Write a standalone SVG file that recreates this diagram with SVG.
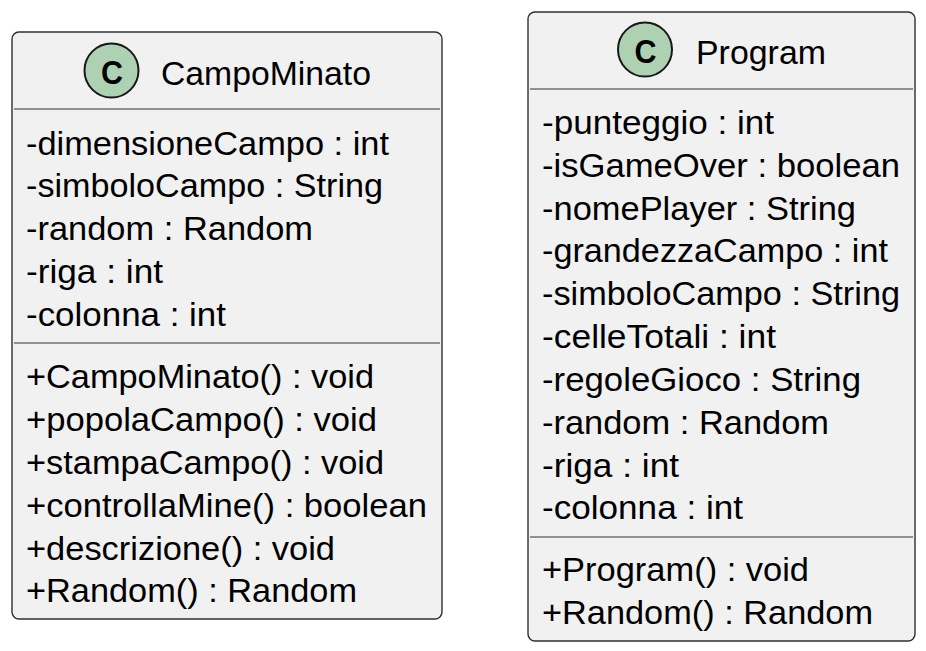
<svg xmlns="http://www.w3.org/2000/svg" width="926" height="651" viewBox="0 0 926 651">
<style>
.box{fill:#f1f1f1;stroke:#303030;stroke-width:1.4}
.sep{stroke:#303030;stroke-width:1.2;fill:none}
.circ{fill:#add1b2;stroke:#181818;stroke-width:2}
text{font-family:"Liberation Sans",Arial,sans-serif;font-size:33px;fill:#000}
.c{font-weight:700;font-size:33px}
</style>
<rect width="926" height="651" fill="#fff"/>
<g id="CampoMinato">
<rect class="box" x="12" y="32" width="430" height="587" rx="7"/>
<circle class="circ" cx="111.5" cy="70.5" r="27"/>
<text class="c" x="112" y="84" text-anchor="middle" textLength="22" lengthAdjust="spacingAndGlyphs">C</text>
<text x="161" y="84.5" textLength="210" lengthAdjust="spacingAndGlyphs">CampoMinato</text>
<path class="sep" d="M14 109H440M14 343H440"/>
<text x="26" y="154.5" textLength="363" lengthAdjust="spacingAndGlyphs">-dimensioneCampo : int</text>
<text x="26" y="196.5" textLength="357" lengthAdjust="spacingAndGlyphs">-simboloCampo : String</text>
<text x="26" y="239.5" textLength="287" lengthAdjust="spacingAndGlyphs">-random : Random</text>
<text x="26" y="282.5" textLength="137" lengthAdjust="spacingAndGlyphs">-riga : int</text>
<text x="26" y="325.5" textLength="200" lengthAdjust="spacingAndGlyphs">-colonna : int</text>
<text x="26" y="387.5" textLength="348" lengthAdjust="spacingAndGlyphs">+CampoMinato() : void</text>
<text x="26" y="430.5" textLength="351" lengthAdjust="spacingAndGlyphs">+popolaCampo() : void</text>
<text x="26" y="473.5" textLength="358" lengthAdjust="spacingAndGlyphs">+stampaCampo() : void</text>
<text x="26" y="516.5" textLength="401" lengthAdjust="spacingAndGlyphs">+controllaMine() : boolean</text>
<text x="26" y="559.5" textLength="309" lengthAdjust="spacingAndGlyphs">+descrizione() : void</text>
<text x="26" y="601.5" textLength="331" lengthAdjust="spacingAndGlyphs">+Random() : Random</text>
</g>
<g id="Program">
<rect class="box" x="528" y="12" width="387" height="629" rx="7"/>
<circle class="circ" cx="645" cy="49.5" r="27"/>
<text class="c" x="645.5" y="63" text-anchor="middle" textLength="22" lengthAdjust="spacingAndGlyphs">C</text>
<text x="696" y="63.5" textLength="130" lengthAdjust="spacingAndGlyphs">Program</text>
<path class="sep" d="M530 89H913M530 537H913"/>
<text x="542" y="133.5" textLength="232" lengthAdjust="spacingAndGlyphs">-punteggio : int</text>
<text x="542" y="176.5" textLength="358" lengthAdjust="spacingAndGlyphs">-isGameOver : boolean</text>
<text x="542" y="219.5" textLength="314" lengthAdjust="spacingAndGlyphs">-nomePlayer : String</text>
<text x="542" y="261.5" textLength="346" lengthAdjust="spacingAndGlyphs">-grandezzaCampo : int</text>
<text x="542" y="304.5" textLength="358" lengthAdjust="spacingAndGlyphs">-simboloCampo : String</text>
<text x="542" y="347.5" textLength="234" lengthAdjust="spacingAndGlyphs">-celleTotali : int</text>
<text x="542" y="390.5" textLength="319" lengthAdjust="spacingAndGlyphs">-regoleGioco : String</text>
<text x="542" y="433.5" textLength="287" lengthAdjust="spacingAndGlyphs">-random : Random</text>
<text x="542" y="476.5" textLength="137" lengthAdjust="spacingAndGlyphs">-riga : int</text>
<text x="542" y="518.5" textLength="201" lengthAdjust="spacingAndGlyphs">-colonna : int</text>
<text x="542" y="580.5" textLength="267" lengthAdjust="spacingAndGlyphs">+Program() : void</text>
<text x="542" y="623.5" textLength="331" lengthAdjust="spacingAndGlyphs">+Random() : Random</text>
</g>
<g id="connectors"></g>
</svg>
